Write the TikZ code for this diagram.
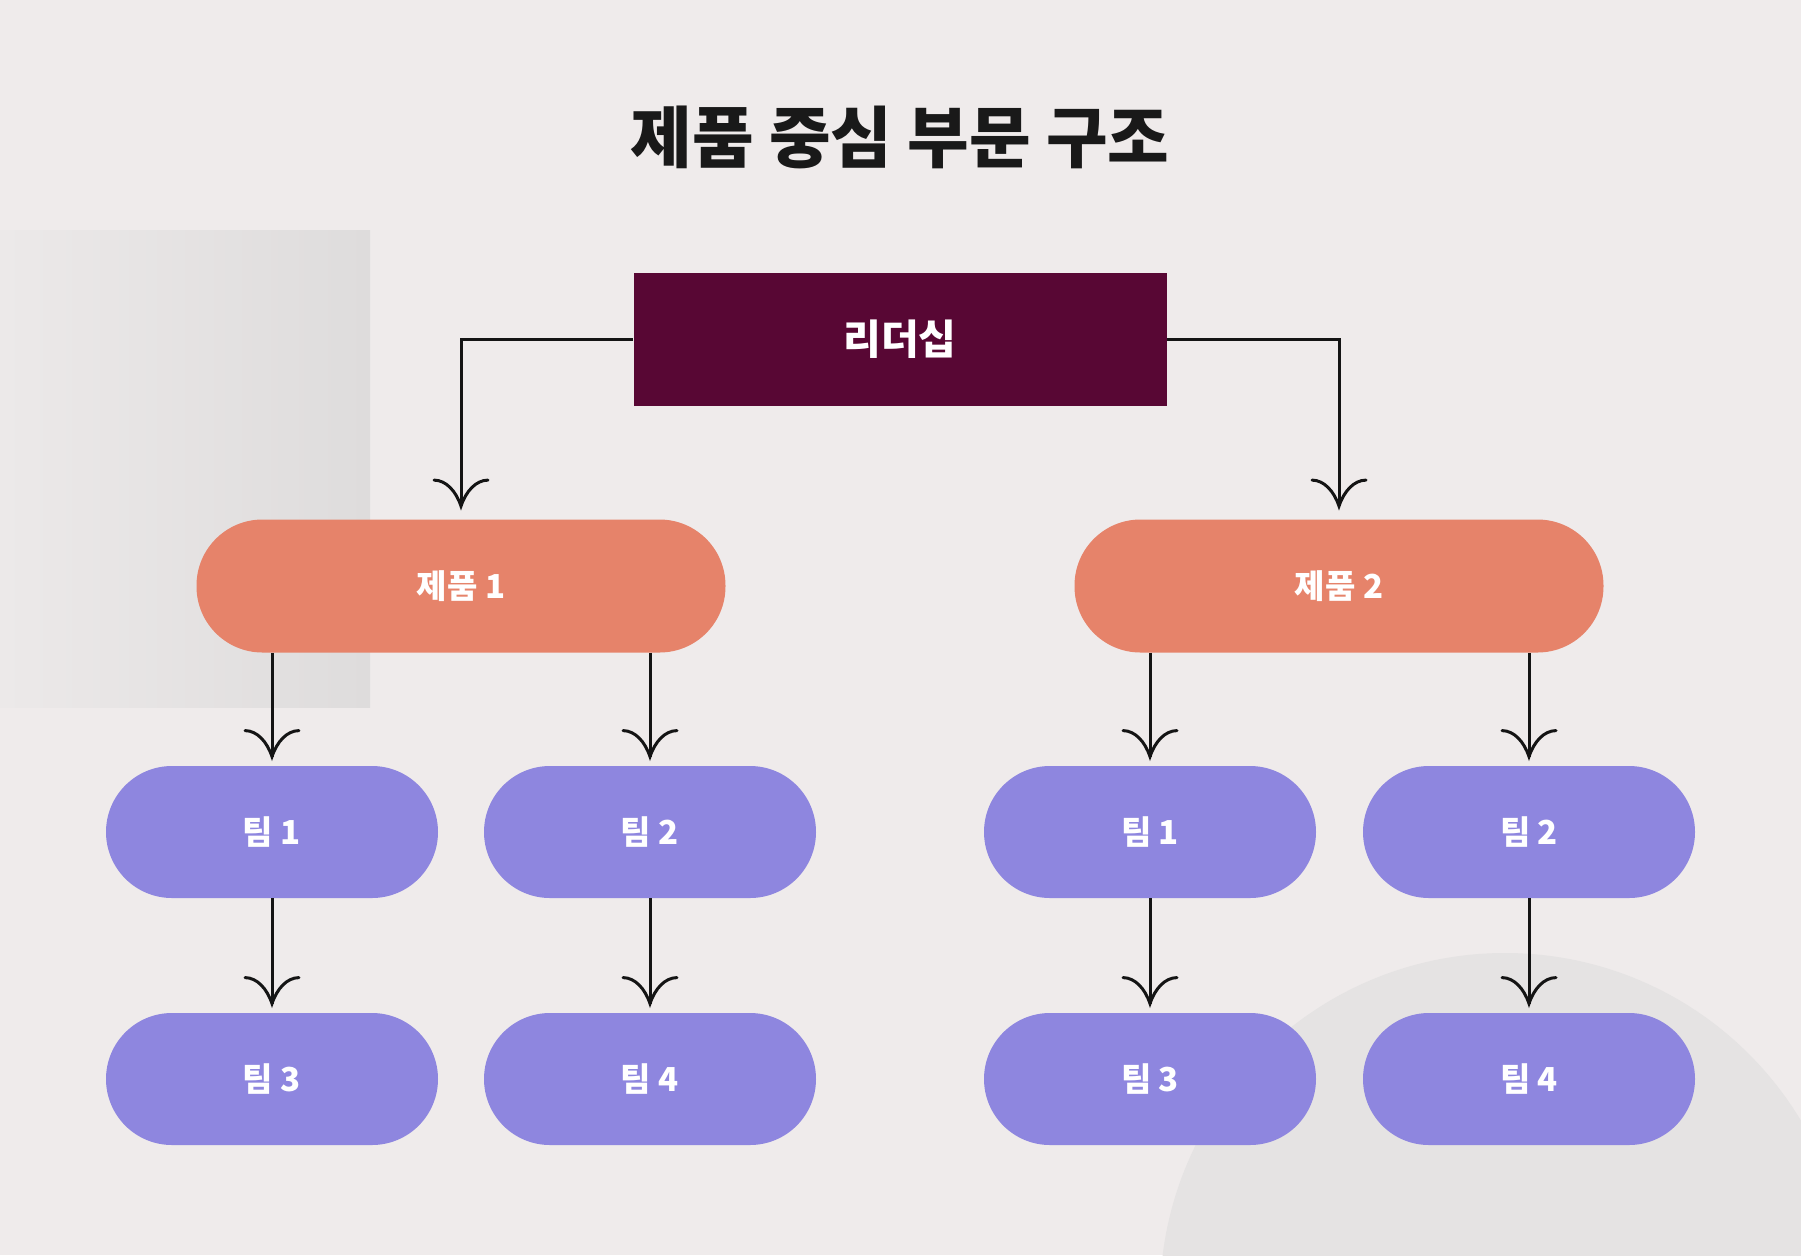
\documentclass[tikz,border=0pt]{standalone}
\usepackage{fontspec}
\setmainfont{Noto Sans CJK KR}
\usetikzlibrary{calc}
\definecolor{bgc}{HTML}{EFEBEB}
\definecolor{leadc}{HTML}{580734}
\definecolor{prodc}{HTML}{E6836A}
\definecolor{teamc}{HTML}{8E86DF}
\definecolor{greyL}{HTML}{ECE9E9}
\definecolor{greyR}{HTML}{DEDCDC}
\definecolor{circc}{HTML}{E5E3E3}
\tikzset{
  leadbox/.style={rectangle, fill=leadc, minimum width=266.5pt, minimum height=66.5pt, text=white, font=\fontsize{20.5}{22}\selectfont\bfseries, inner sep=0pt},
  prodbox/.style={rectangle, rounded corners=33pt, fill=prodc, minimum width=264.5pt, minimum height=66.5pt, text=white, font=\fontsize{16.5}{19}\selectfont\bfseries, inner sep=0pt},
  teambox/.style={rectangle, rounded corners=33pt, fill=teamc, minimum width=166pt, minimum height=66pt, text=white, font=\fontsize{16.5}{19}\selectfont\bfseries, inner sep=0pt},
  conn/.style={draw=black!92, line width=1.5pt},
  barb/.style={draw=black!92, line width=1.5pt, line cap=round},
}
\newcommand\downtip[1]{%
  \draw[barb] ($(#1)+(-27,-26)$) .. controls ($(#1)+(-15,-26)$) and ($(#1)+(-5,-15)$) .. (#1)
    .. controls ($(#1)+(5,-15)$) and ($(#1)+(15,-26)$) .. ($(#1)+(27,-26)$);}
\begin{document}
\begin{tikzpicture}[x=0.5pt,y=-0.5pt]
\fill[bgc] (0,0) rectangle (1801,1255);
\useasboundingbox (0,0) rectangle (1801,1255);
\shade[left color=greyL, right color=greyR] (0,230) rectangle (370,707);
\begin{scope}
\clip (0,0) rectangle (1801,1255);
\fill[circc] (1505,1298) circle[radius=345];
\end{scope}
\node[font=\fontsize{33.5}{36}\selectfont\bfseries, text=black!90] (title) at (900,137) {제품 중심 부문 구조};
\node[leadbox] (L) at (900,339) {리더십};
\node[prodbox] (P1) at (461,586) {제품 1};
\node[prodbox] (P2) at (1339,586) {제품 2};
\node[teambox] (A1) at (272,832) {팀 1};
\node[teambox] (A2) at (650,832) {팀 2};
\node[teambox] (B1) at (1150,832) {팀 1};
\node[teambox] (B2) at (1529,832) {팀 2};
\node[teambox] (A3) at (272,1079) {팀 3};
\node[teambox] (A4) at (650,1079) {팀 4};
\node[teambox] (B3) at (1150,1079) {팀 3};
\node[teambox] (B4) at (1529,1079) {팀 4};
% tip coordinates
\coordinate (tP1) at ($(P1.north)+(0,-13)$);
\coordinate (tP2) at ($(P2.north)+(0,-13)$);
\foreach \t in {A1,A2,B1,B2,A3,A4,B3,B4}{
  \coordinate (t\t) at ($(\t.north)+(0,-9)$);
}
\draw[conn] (L.west) -| (tP1);
\draw[conn] (L.east) -| (tP2);
\downtip{tP1}
\downtip{tP2}
\foreach \t/\p in {A1/P1, A2/P1, B1/P2, B2/P2}{
  \draw[conn] (\t |- \p.south) -- (t\t);
  \downtip{t\t}
}
\foreach \t/\p in {A3/A1, A4/A2, B3/B1, B4/B2}{
  \draw[conn] (\p.south) -- (t\t);
  \downtip{t\t}
}
\end{tikzpicture}
\end{document}
